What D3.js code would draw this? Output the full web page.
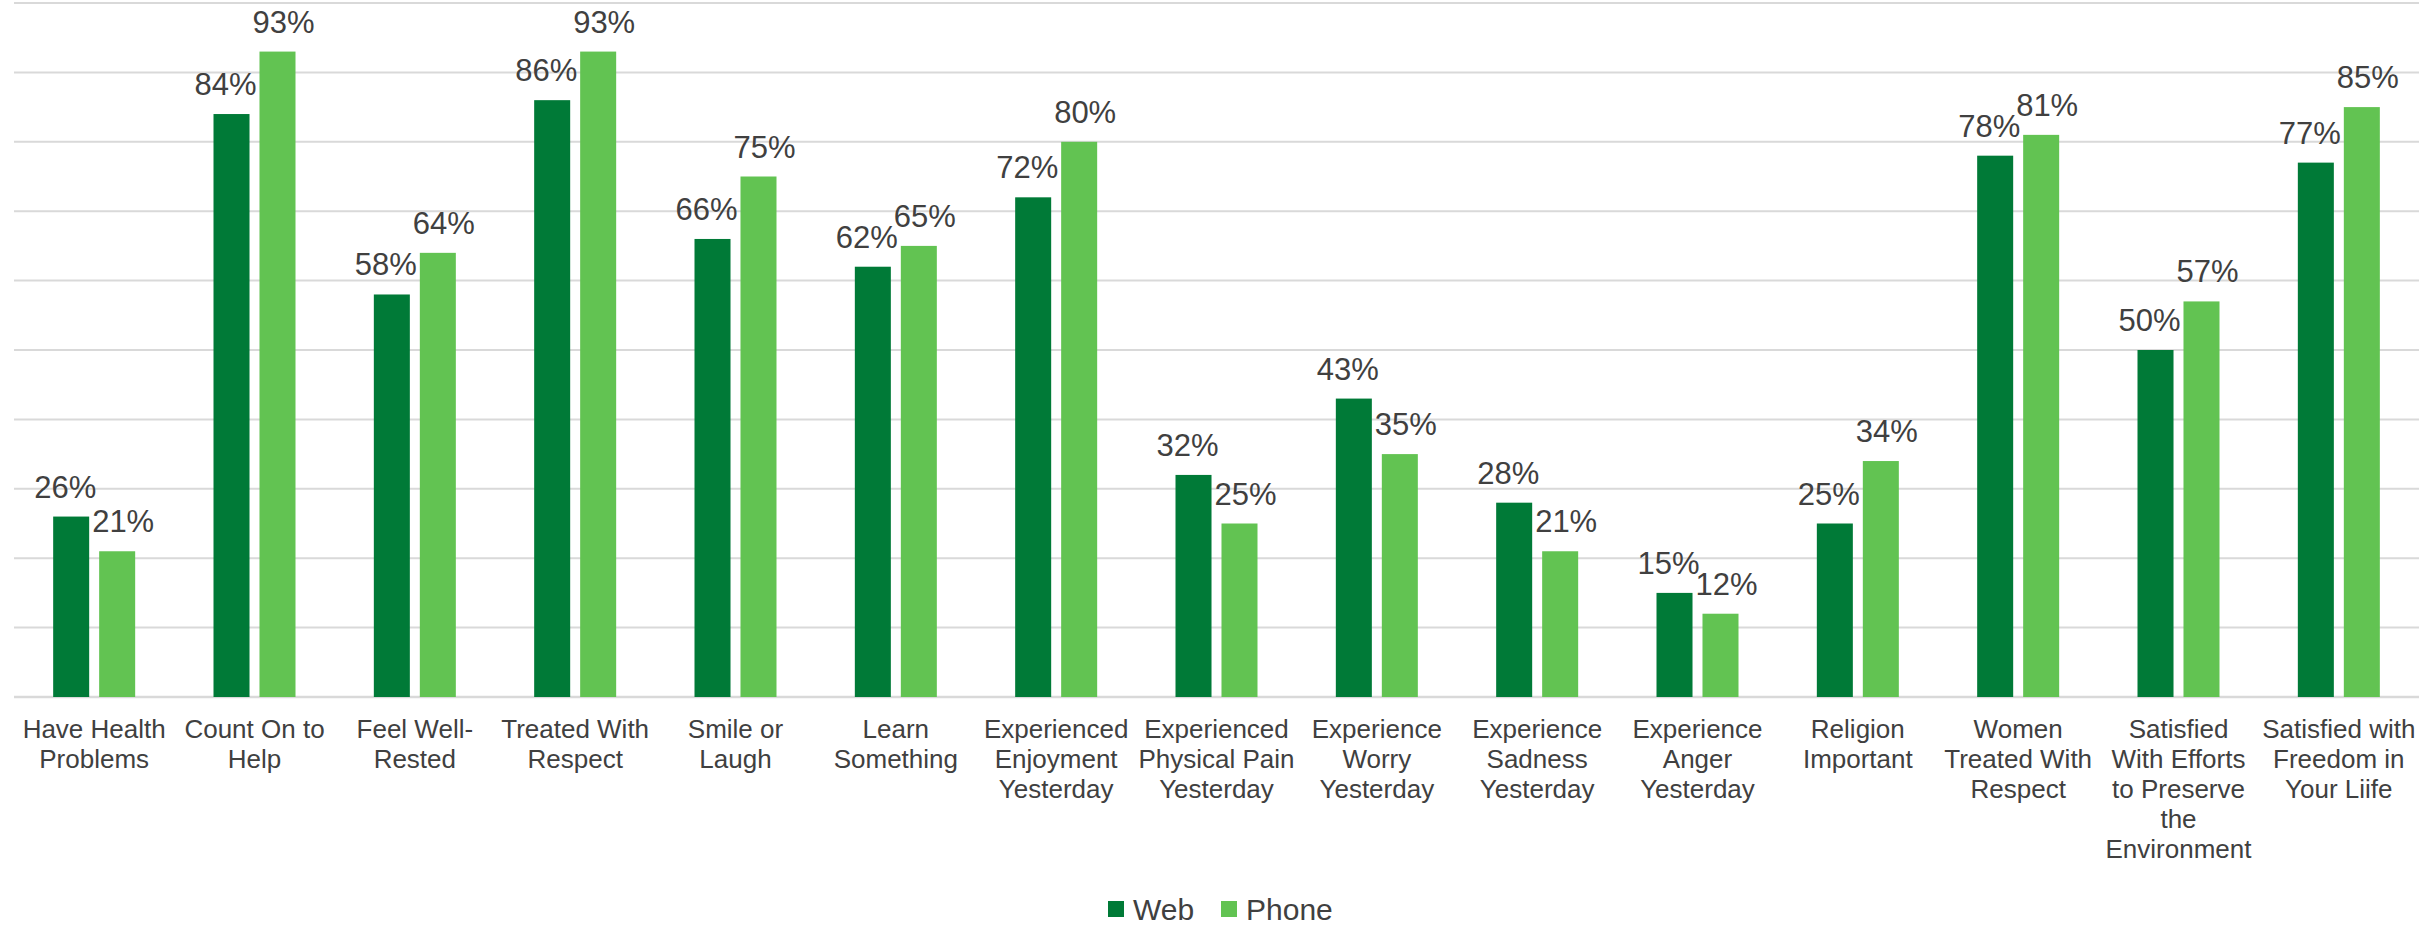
<!DOCTYPE html>
<html>
<head>
<meta charset="utf-8">
<script src="https://cdn.jsdelivr.net/npm/d3@7"></script>
<style>
  body { margin: 0; background: #fff; }
  text { font-family: "Liberation Sans", Arial, sans-serif; fill: #404040; }
</style>
</head>
<body>
<script>
// category labels, lines split as in the original chart
const categories = [
  "Have Health\nProblems",
  "Count On to\nHelp",
  "Feel Well-\nRested",
  "Treated With\nRespect",
  "Smile or\nLaugh",
  "Learn\nSomething",
  "Experienced\nEnjoyment\nYesterday",
  "Experienced\nPhysical Pain\nYesterday",
  "Experience\nWorry\nYesterday",
  "Experience\nSadness\nYesterday",
  "Experience\nAnger\nYesterday",
  "Religion\nImportant",
  "Women\nTreated With\nRespect",
  "Satisfied\nWith Efforts\nto Preserve\nthe\nEnvironment",
  "Satisfied with\nFreedom in\nYour Liife"
];
const series = ["Web", "Phone"];
const webValues = [26, 84, 58, 86, 66, 62, 72, 32, 43, 28, 15, 25, 78, 50, 77];
const phoneValues = [21, 93, 64, 93, 75, 65, 80, 25, 35, 21, 12, 34, 81, 57, 85];
const gridTicks = [0, 10, 20, 30, 40, 50, 60, 70, 80, 90, 100];

const colors = {Web: "#007a37", Phone: "#62c352"};
const labelShift = {Web: -6, Phone: 6};
const W = 2433, H = 929;
const plot = {left: 14, right: 2419, top: 3, bottom: 697};

const svg = d3.select("body").append("svg")
    .attr("width", W).attr("height", H);

const x0 = d3.scaleBand().domain(d3.range(categories.length))
    .range([plot.left, plot.right]).padding(0);
const groupW = 82;
const x1 = d3.scaleBand().domain(series).range([0, groupW])
    .paddingInner(0.217).paddingOuter(0);
const y = d3.scaleLinear().domain([0, 100]).range([plot.bottom, plot.top]);

// gridlines
svg.append("g").selectAll("line")
    .data(gridTicks)
    .enter().append("line")
    .attr("x1", plot.left).attr("x2", plot.right)
    .attr("y1", d => y(d)).attr("y2", d => y(d))
    .attr("stroke", "#d9d9d9")
    .attr("stroke-width", d => d === 0 ? 2.5 : 2);

const rows = categories.map((c, i) => ({i: i, Web: webValues[i], Phone: phoneValues[i]}));

const groups = svg.append("g").selectAll("g")
    .data(rows)
    .enter().append("g")
    .attr("transform", d => "translate(" + (x0(d.i) + x0.bandwidth() / 2 - groupW / 2) + ",0)");

groups.selectAll("rect")
    .data(d => series.map(s => ({s: s, v: d[s]})))
    .enter().append("rect")
    .attr("x", d => x1(d.s))
    .attr("y", d => y(d.v))
    .attr("width", x1.bandwidth())
    .attr("height", d => y(0) - y(d.v))
    .attr("fill", d => colors[d.s]);

groups.selectAll("text.val")
    .data(d => series.map(s => ({s: s, v: d[s]})))
    .enter().append("text")
    .attr("class", "val")
    .attr("x", d => x1(d.s) + x1.bandwidth() / 2 + labelShift[d.s])
    .attr("y", d => y(d.v) - 19)
    .attr("text-anchor", "middle")
    .style("font-size", "31px")
    .text(d => d.v + "%");

// category labels
const xAxis = svg.append("g");
categories.forEach((c, i) => {
  const t = xAxis.append("text")
      .attr("text-anchor", "middle")
      .style("font-size", "26px");
  c.split("\n").forEach((line, j) => {
    t.append("tspan")
        .attr("x", x0(i) + x0.bandwidth() / 2)
        .attr("y", plot.bottom + 41 + j * 30)
        .text(line);
  });
});

// legend
const legend = svg.append("g").attr("transform", "translate(1108,901)");
const legendX = [0, 113];
series.forEach((s, i) => {
  const g = legend.append("g").attr("transform", "translate(" + legendX[i] + ",0)");
  g.append("rect").attr("width", 16).attr("height", 16).attr("fill", colors[s]);
  g.append("text").attr("x", 25).attr("y", 19)
      .style("font-size", "30px").text(s);
});
</script>
</body>
</html>
